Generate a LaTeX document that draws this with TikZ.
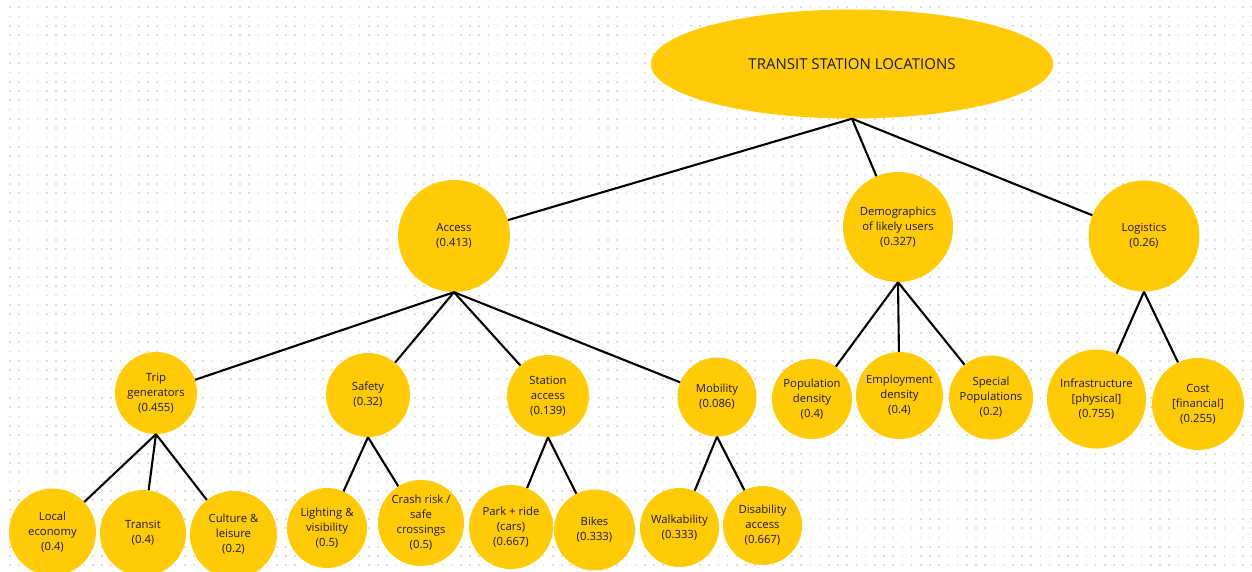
\documentclass[tikz,border=0pt]{standalone}
\usepackage{fontspec}
\setmainfont{Open Sans}
\usetikzlibrary{shapes.geometric}
\definecolor{gold}{HTML}{FFCB05}
\definecolor{dotgray}{HTML}{DEDEDE}
\definecolor{ink}{HTML}{1E1B12}
\begin{document}
\begin{tikzpicture}[x=1pt,y=-1pt,
  bub/.style={circle,fill=gold,inner sep=0pt,align=center,text=ink,
    font=\fontsize{11.3}{15}\selectfont},
  rootnode/.style={ellipse,fill=gold,inner sep=0pt,text=ink,
    font=\fontsize{15}{18}\selectfont},
  link/.style={line width=2.1pt,black},
  dotrow/.style={dotgray,line width=1.7pt,dash pattern=on 1.7pt off 7.5pt}]
\fill[white] (0,0) rectangle (1252,571);
\useasboundingbox (0,0) rectangle (1252,571);
\foreach \r in {0,...,61} {
  \draw[dotrow] (9.15,{7.3+9.3*\r}) -- (1252,{7.3+9.3*\r});
}
% root
\node[rootnode,minimum width=402pt,minimum height=109pt] (root) at (852,64) {TRANSIT STATION LOCATIONS};
% level 1
\node[bub,minimum size=112pt] (acc) at (454,236) {Access\\(0.413)};
\node[bub,minimum size=110pt] (dem) at (898,227) {Demographics\\of likely users\\(0.327)};
\node[bub,minimum size=111pt] (log) at (1144,236) {Logistics\\(0.26)};
% level 2
\node[bub,minimum size=82pt] (trip) at (156,393) {Trip\\generators\\(0.455)};
\node[bub,minimum size=84pt] (saf) at (368,395) {Safety\\(0.32)};
\node[bub,minimum size=82pt] (sta) at (548,396) {Station\\access\\(0.139)};
\node[bub,minimum size=79pt] (mob) at (717,397) {Mobility\\(0.086)};
\node[bub,minimum size=80pt] (pop) at (812,399) {Population\\density\\(0.4)};
\node[bub,minimum size=87pt] (emp) at (899.5,395.5) {Employment\\density\\(0.4)};
\node[bub,minimum size=84pt] (spe) at (991,397.5) {Special\\Populations\\(0.2)};
\node[bub,minimum size=99pt] (inf) at (1096.5,399) {Infrastructure\\{[physical]}\\(0.755)};
\node[bub,minimum size=92pt] (cost) at (1198,404) {Cost\\{[financial]}\\(0.255)};
% level 3
\node[bub,minimum size=87pt] (loc) at (52.5,532) {Local\\economy\\(0.4)};
\node[bub,minimum size=86pt] (tra) at (143,533) {Transit\\(0.4)};
\node[bub,minimum size=87pt] (cul) at (233.5,534.5) {Culture \&\\leisure\\(0.2)};
\node[bub,minimum size=80pt] (lig) at (327,528) {Lighting \&\\visibility\\(0.5)};
\node[bub,minimum size=86pt] (cra) at (421,523) {Crash risk /\\safe\\crossings\\(0.5)};
\node[bub,minimum size=84pt] (par) at (511,527) {Park + ride\\(cars)\\(0.667)};
\node[bub,minimum size=81pt] (bik) at (594.5,530) {Bikes\\(0.333)};
\node[bub,minimum size=79pt] (wal) at (679.5,527.5) {Walkability\\(0.333)};
\node[bub,minimum size=79pt] (dis) at (762.5,525.5) {Disability\\access\\(0.667)};
% connectors
\foreach \c in {acc,dem,log} \draw[link] (root.south) -- (\c);
\foreach \c in {trip,saf,sta,mob} \draw[link] (acc.south) -- (\c);
\foreach \c in {pop,emp,spe} \draw[link] (dem.south) -- (\c);
\foreach \c in {inf,cost} \draw[link] (log.south) -- (\c);
\foreach \c in {loc,tra,cul} \draw[link] (trip.south) -- (\c);
\foreach \c in {lig,cra} \draw[link] (saf.south) -- (\c);
\foreach \c in {par,bik} \draw[link] (sta.south) -- (\c);
\foreach \c in {wal,dis} \draw[link] (mob.south) -- (\c);
\end{tikzpicture}
\end{document}
